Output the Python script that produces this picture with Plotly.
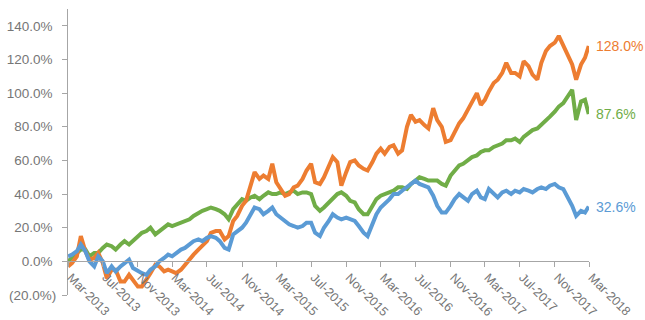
import pandas as pd
import plotly.graph_objects as go

# Semi-monthly observation dates, Mar-2013 through end of Feb-2018
dates = list(pd.date_range("2013-03-01", "2018-02-15", freq="SMS")) + [pd.Timestamp("2018-02-28")]

# Cumulative return (%) for each series
orange_vals = [
    -3, -1, 3, 15, 6, 1, 2, 5, -1, -10, -5, -5, -12, -12, -8, -11, -15, -15, -11, -7,
    -2, -3, -6, -5, -6, -7, -5, -2, 1, 4, 7, 9, 12, 17, 18, 18, 13, 15, 24, 27,
    33, 36, 45, 53, 49, 51, 49, 58, 47, 43, 39, 40, 44, 45, 49, 54, 58, 47, 46, 50,
    56, 62, 59, 45, 53, 59, 60, 57, 55, 54, 59, 64, 67, 64, 68, 69, 64, 66, 80, 87,
    83, 84, 81, 79, 91, 84, 80, 71, 72, 77, 82, 85, 90, 95, 100, 93, 96, 101, 106, 108,
    112, 118, 112, 112, 110, 119, 116, 111, 108, 118, 125, 128, 130, 134, 128, 123, 117, 108, 117, 121,
    128.0,
]
green_vals = [
    0, 2, 5, 7, 7, 3, 5, 5, 8, 10, 9, 7, 10, 12, 10, 12, 15, 17, 18, 20,
    16, 18, 20, 22, 21, 22, 23, 24, 25, 27, 29, 30, 31, 32, 31, 30, 28, 25, 31, 34,
    37, 36, 38, 39, 37, 39, 41, 40, 40, 41, 40, 41, 42, 40, 41, 41, 40, 33, 30, 32,
    35, 38, 40, 41, 39, 36, 35, 31, 28, 28, 33, 37, 39, 40, 41, 42, 44, 44, 43, 46,
    48, 50, 49, 48, 48, 48, 46, 45, 51, 54, 57, 58, 60, 62, 63, 65, 66, 66, 68, 69,
    70, 72, 72, 73, 71, 74, 76, 78, 79, 81, 84, 86, 89, 92, 94, 98, 102, 84, 95, 96,
    87.6,
]
blue_vals = [
    3, 4, 6, 10, 6, 0, -3, 3, 0, -7, -3, -6, -3, -1, 1, -4, -6, -7, -8, -5,
    -3, 0, 2, 4, 3, 5, 7, 8, 10, 12, 13, 12, 14, 15, 14, 12, 8, 7, 16, 18,
    20, 23, 28, 32, 31, 28, 30, 32, 28, 26, 24, 22, 21, 20, 21, 23, 23, 17, 15, 20,
    24, 28, 26, 25, 26, 25, 24, 21, 17, 15, 22, 28, 32, 34, 37, 40, 40, 42, 44, 46,
    48, 46, 45, 44, 39, 33, 29, 29, 33, 37, 40, 38, 36, 40, 42, 38, 37, 43, 40, 38,
    41, 42, 40, 42, 41, 43, 42, 41, 43, 44, 43, 45, 46, 44, 43, 39, 33, 27, 30, 29,
    32.6,
]

# Drawing order: green at the back, blue on top
series = [
    ("green", green_vals, "#70AD47"),
    ("orange", orange_vals, "#ED7D31"),
    ("blue", blue_vals, "#5B9BD5"),
]

y_ticks = [-20, 0, 20, 40, 60, 80, 100, 120, 140]


def pct_label(v):
    return f"({abs(v):.1f}%)" if v < 0 else f"{v:.1f}%"


def axis_pct_label(v):
    # accounting-style: positives padded so digits line up with "(...)" negatives
    return pct_label(v) if v < 0 else pct_label(v) + "\u2008"


text_color = "#767676"
axis_color = "#a6a6a6"
font_family = "Liberation Sans, Arial, sans-serif"

fig = go.Figure()
for name, vals, color in series:
    fig.add_trace(go.Scatter(
        x=dates, y=vals, mode="lines", name=name,
        line=dict(color=color, width=4),
    ))
    fig.add_annotation(
        x=dates[-1], y=vals[-1], text=pct_label(vals[-1]),
        showarrow=False, xanchor="left", yanchor="middle", xshift=5,
        font=dict(color=color, size=14, family=font_family),
    )

y_min, y_max = -20, 150
fig.update_layout(
    width=645, height=320,
    margin=dict(l=68, r=56, t=9, b=25),
    paper_bgcolor="white", plot_bgcolor="white",
    showlegend=False,
    font=dict(family=font_family, size=13.5, color=text_color),
    xaxis=dict(
        type="date",
        range=["2013-03-01", "2018-03-01"],
        tick0="2013-03-01", dtick="M4", tickformat="%b-%Y",
        tickangle=45,
        anchor="free", position=(0 - y_min) / (y_max - y_min),
        showline=True, linecolor=axis_color, linewidth=1,
        ticks="outside", ticklen=5, tickcolor=axis_color,
        ticklabelshift=3, ticklabelstandoff=-2,
        showgrid=False, zeroline=False, automargin=False,
        tickfont=dict(size=12.5, color=text_color),
    ),
    yaxis=dict(
        range=[y_min, y_max],
        tickvals=y_ticks, ticktext=[axis_pct_label(v) for v in y_ticks],
        showline=True, linecolor=axis_color, linewidth=1,
        ticks="outside", ticklen=5, tickcolor=axis_color,
        ticklabelstandoff=3,
        showgrid=False, zeroline=False, automargin=False,
        tickfont=dict(size=13.5, color=text_color),
    ),
)

fig.write_html("out.html")
